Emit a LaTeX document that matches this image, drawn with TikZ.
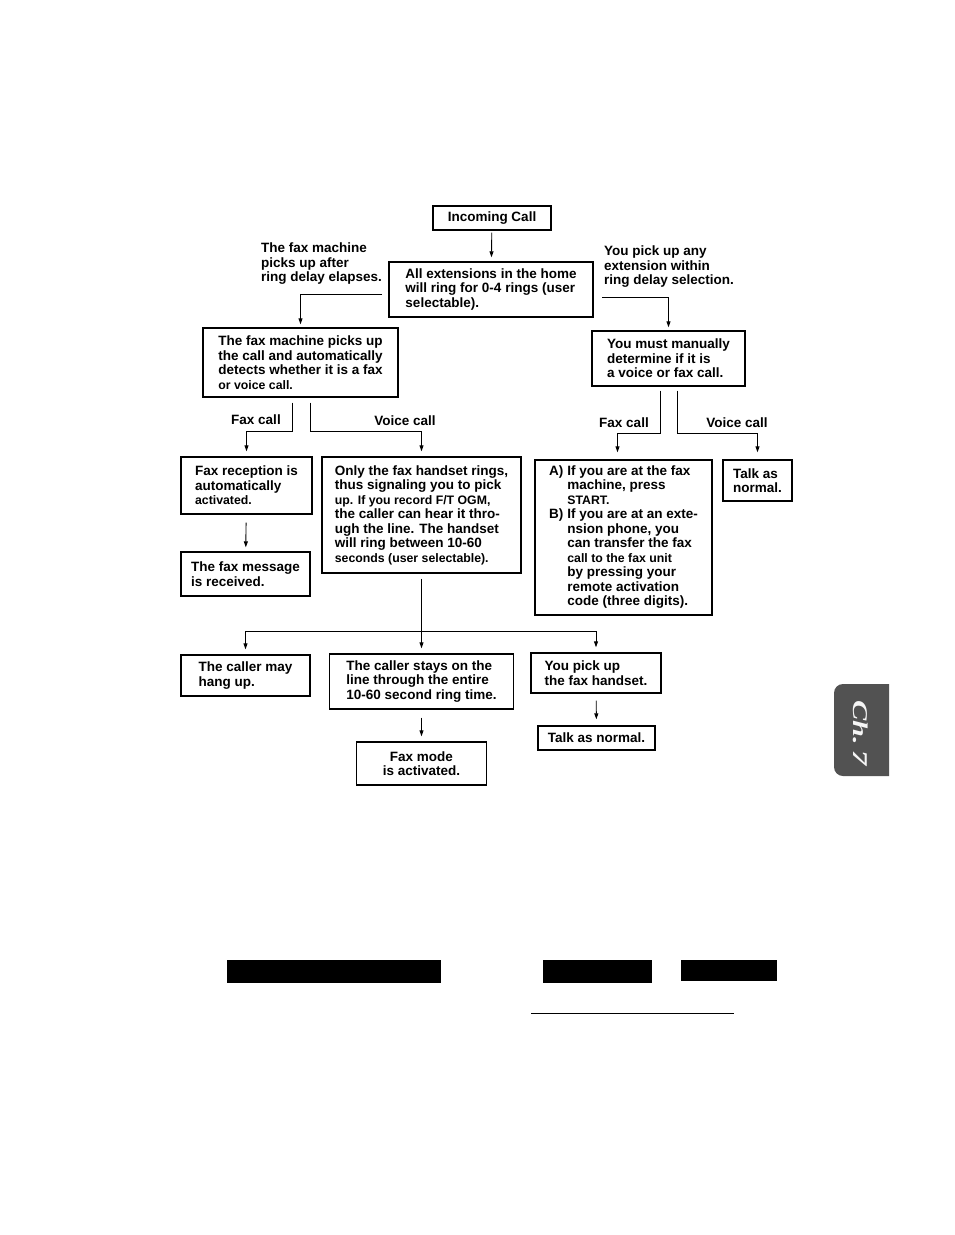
\documentclass[tikz,border=0pt]{standalone}
\usepackage{fontspec}
\setmainfont{Liberation Sans}
\newfontfamily\tabfont{Liberation Serif}
\usetikzlibrary{arrows.meta}
\newcommand\smtxt[1]{{\fontsize{12.3}{14}\selectfont #1}}

\begin{document}
\begin{tikzpicture}[
  x=1pt,y=-1pt,
  every node/.style={inner sep=0pt,font=\fontsize{13.5}{14.5}\selectfont\bfseries},
  box/.style={draw,line width=1.4pt,align=left},
  lbl/.style={align=left,anchor=west},
  arr/.style={-{Triangle[length=6pt,width=4pt]},line width=0.9pt},
  conn/.style={line width=0.9pt}
]
\useasboundingbox (0,0) rectangle (954,1235);
% ================= top: incoming call =================
\node[box,align=center,minimum width=118pt,minimum height=24pt] (inc) at (492,218) {Incoming Call};
\node[box,minimum width=204pt,minimum height=55pt] (ext) at (491,289.5)
  {All extensions in the home\\will ring for 0-4 rings (user\\selectable).};
\node[lbl] (lftlbl) at (261,264) {The fax machine\\picks up after\\ring delay elapses.};
\node[lbl] (rgtlbl) at (604,267) {You pick up any\\extension within\\ring delay selection.};
\coordinate (lft) at (382,294);
\coordinate (rgt) at (602,297);
\draw[arr,shorten <=2pt,shorten >=4pt] (inc) -- (ext);
% ================= second row =================
\node[box,minimum width=195pt,minimum height=69pt] (fmp) at (300.5,362.5)
  {The fax machine picks up\\the call and automatically\\detects whether it is a fax\\\smtxt{or voice call.}};
\node[box,minimum width=153pt,minimum height=55pt] (man) at (668.5,358.5)
  {You must manually\\determine if it is\\a voice or fax call.};
\draw[arr,shorten >=3pt] (lft) -| (fmp.north);
\draw[arr,shorten >=3pt] (rgt) -| (man.north);
% ================= third row =================
\node[box,minimum width=131pt,minimum height=57pt] (frx) at (246.5,485.5)
  {Fax reception is\\automatically\\\smtxt{activated.}};
\node[box,minimum width=199pt,minimum height=116pt] (only) at (421.5,515)
  {Only the fax handset rings,\\thus signaling you to pick\\\smtxt{up. If you record F/T OGM,}\\the caller can hear it thro-\\ugh the line. The handset\\will ring between 10-60\\\smtxt{seconds (user selectable).}};
\node[box,minimum width=177pt,minimum height=155pt] (ab) at (623.5,537.5)
  {\begin{tabular}{@{}l@{\hspace{4pt}}l@{}}
   A)&If you are at the fax\\
     &machine, press\\
     &\smtxt{START.}\\
   B)&If you are at an exte-\\
     &nsion phone, you\\
     &can transfer the fax\\
     &\smtxt{call to the fax unit}\\
     &by pressing your\\
     &remote activation\\
     &code (three digits).
   \end{tabular}};
\node[box,minimum width=69pt,minimum height=41pt] (tan) at (757.5,480.5) {Talk as\\normal.};
\node (fxc1) at (256,420) {Fax call};
\node (vcc1) at (405,421) {Voice call};
\node (fxc2) at (624,423) {Fax call};
\node (vcc2) at (737,423) {Voice call};
\draw[arr,shorten <=5pt,shorten >=5pt] ([xshift=-8pt]fmp.south) -- ++(0,34) -| (frx.north);
\draw[arr,shorten <=5pt,shorten >=5pt] ([xshift=10pt]fmp.south) -- ++(0,34) -| (only.north);
\draw[arr,shorten <=4pt,shorten >=7pt] ([xshift=-8.5pt]man.south) -- ++(0,47) -| ([xshift=-6pt]ab.north);
\draw[arr,shorten <=4pt,shorten >=7pt] ([xshift=8.5pt]man.south) -- ++(0,47) -| (tan.north);
% ================= fourth row =================
\node[box,minimum width=129pt,minimum height=44pt] (fmr) at (245.5,574) {The fax message\\is received.};
\draw[arr,shorten <=8pt,shorten >=4pt] (frx) -- (fmr);
\node[box,minimum width=129pt,minimum height=41pt] (hang) at (245.5,675.5) {The caller may\\hang up.};
\node[box,minimum width=184pt,minimum height=55pt] (stay) at (421.5,681.5)
  {The caller stays on the\\line through the entire\\10-60 second ring time.};
\node[box,minimum width=130pt,minimum height=40pt] (pick) at (596,673) {You pick up\\the fax handset.};
\draw[conn] ([yshift=-5pt]only.south) -- ++(0,53) coordinate (brn);
\draw[arr,shorten >=5pt] (brn) -| (hang.north);
\draw[arr,shorten >=5pt] (brn) -- (stay.north);
\draw[arr,shorten >=5pt] (brn) -| (pick.north);
% ================= bottom row =================
\node[box,align=center,minimum width=130pt,minimum height=43pt] (fxm) at (421.5,763.5) {Fax mode\\is activated.};
\node[box,align=center,minimum width=117pt,minimum height=24pt] (tan2) at (596.5,738) {Talk as normal.};
\draw[arr,shorten <=8pt,shorten >=5pt] (stay) -- (fxm);
\draw[arr,shorten <=7pt,shorten >=6pt] (pick) -- (tan2);
% ================= chapter tab =================
\fill[black!68] (889,684) [rounded corners=9pt] -- (834,684) -- (834,776) [sharp corners] -- (889,776) -- cycle;
\node[rotate=-90,text=gray!8,font=\tabfont\fontsize{21}{21}\selectfont\bfseries\itshape] (tab) at (861,733) {\scalebox{1.45}[1]{Ch.\,7}};
% ================= bars =================
\fill (227,960) rectangle (441,983);
\fill (543,960) rectangle (652,983);
\fill (681,960) rectangle (777,981);
\draw[line width=1pt] (531,1013) -- (734,1013);
\end{tikzpicture}
\end{document}
